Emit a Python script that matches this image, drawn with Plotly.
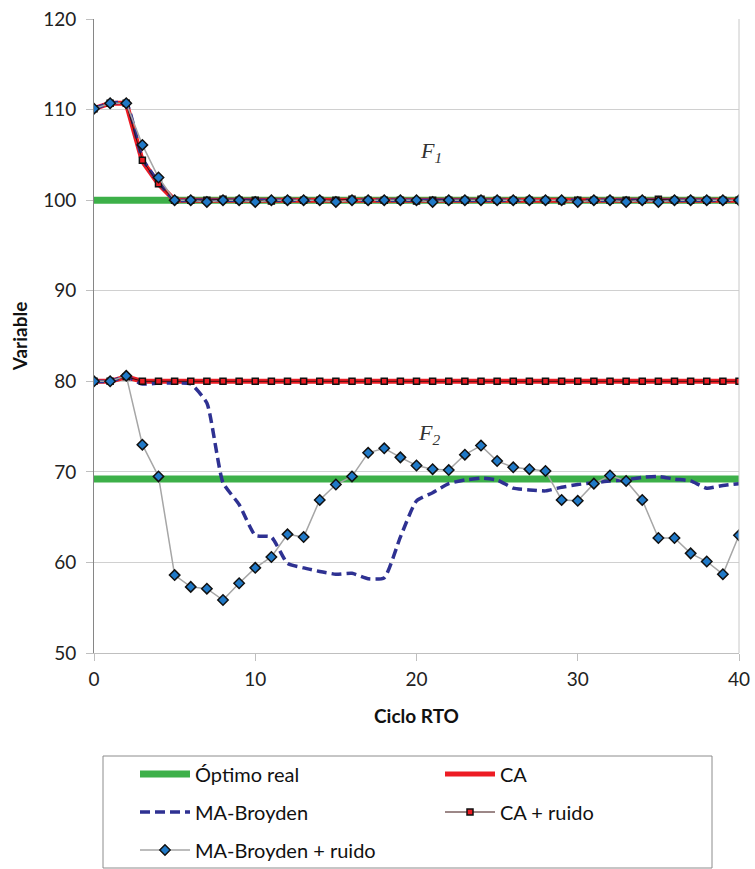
import plotly.graph_objects as go

# RTO cycle index
ciclo = list(range(41))
opt_ciclo = [0, 40]

# Real optimum for each variable
optimo_F1 = [100.0, 100.0]
optimo_F2 = [69.2, 69.2]

# F1 trajectories
ca_F1 = [110.1, 110.7, 110.7, 104.3, 101.8, 100.0, 100.0, 100.0, 100.0, 100.0,
         100.0, 100.0, 100.0, 100.0, 100.0, 100.0, 100.0, 100.0, 100.0, 100.0,
         100.0, 100.0, 100.0, 100.0, 100.0, 100.0, 100.0, 100.0, 100.0, 100.0,
         100.0, 100.0, 100.0, 100.0, 100.0, 100.0, 100.0, 100.0, 100.0, 100.0,
         100.0]
mab_F1 = [110.1, 110.7, 110.7, 104.6, 102.0, 100.0, 100.0, 100.0, 100.0, 100.0,
          100.0, 100.0, 100.0, 100.0, 100.0, 100.0, 100.0, 100.0, 100.0, 100.0,
          100.0, 100.0, 100.0, 100.0, 100.0, 100.0, 100.0, 100.0, 100.0, 100.0,
          100.0, 100.0, 100.0, 100.0, 100.0, 100.0, 100.0, 100.0, 100.0, 100.0,
          100.0]
ca_ruido_F1 = [110.1, 110.7, 110.7, 104.4, 101.8, 100.0, 100.0, 100.0, 100.1, 100.0,
               100.0, 99.9, 100.0, 100.0, 100.0, 100.0, 100.1, 100.0, 100.0, 100.0,
               99.9, 100.0, 100.0, 100.0, 100.1, 100.0, 100.0, 100.0, 100.0, 99.9,
               100.0, 100.0, 100.0, 100.0, 100.0, 100.1, 100.0, 100.0, 100.0, 100.0,
               100.0]
mab_ruido_F1 = [110.1, 110.7, 110.7, 106.1, 102.5, 100.0, 100.0, 99.8, 100.0, 100.0,
                99.8, 100.0, 100.0, 100.0, 100.0, 99.8, 100.0, 100.0, 100.0, 100.0,
                100.0, 99.8, 100.0, 100.0, 100.0, 100.0, 100.0, 100.0, 100.0, 100.0,
                99.8, 100.0, 100.0, 99.8, 100.0, 99.8, 100.0, 100.0, 100.0, 100.0,
                100.0]

# F2 trajectories
ca_F2 = [80.0, 80.0, 80.5, 80.0, 80.0, 80.0, 80.0, 80.0, 80.0, 80.0,
         80.0, 80.0, 80.0, 80.0, 80.0, 80.0, 80.0, 80.0, 80.0, 80.0,
         80.0, 80.0, 80.0, 80.0, 80.0, 80.0, 80.0, 80.0, 80.0, 80.0,
         80.0, 80.0, 80.0, 80.0, 80.0, 80.0, 80.0, 80.0, 80.0, 80.0,
         80.0]
mab_F2 = [80.0, 80.0, 80.5, 79.7, 79.8, 79.8, 79.7, 77.6, 68.8, 66.4,
          63.0, 62.8, 59.9, 59.4, 59.0, 58.7, 58.8, 58.2, 58.3, 62.8,
          66.8, 67.7, 68.7, 69.1, 69.3, 69.1, 68.2, 68.0, 67.9, 68.3,
          68.6, 68.8, 69.0, 69.1, 69.4, 69.5, 69.2, 69.0, 68.2, 68.5,
          68.7]
ca_ruido_F2 = [80.0, 80.0, 80.5, 80.0, 80.0, 80.0, 80.0, 80.0, 80.0, 80.0,
               80.0, 80.0, 80.0, 80.0, 80.0, 80.0, 80.0, 80.0, 80.0, 80.0,
               80.0, 80.0, 80.0, 80.0, 80.0, 80.0, 80.0, 80.0, 80.0, 80.0,
               80.0, 80.0, 80.0, 80.0, 80.0, 80.0, 80.0, 80.0, 80.0, 80.0,
               80.0]
mab_ruido_F2 = [80.0, 80.0, 80.6, 73.0, 69.5, 58.6, 57.3, 57.1, 55.85, 57.7,
                59.4, 60.6, 63.1, 62.8, 66.9, 68.6, 69.5, 72.1, 72.6, 71.6,
                70.7, 70.3, 70.2, 71.9, 72.9, 71.2, 70.5, 70.3, 70.1, 66.9,
                66.8, 68.7, 69.6, 69.0, 66.9, 62.7, 62.7, 61.0, 60.1, 58.7,
                63.0]

GREEN = "#3DB049"
RED = "#ED1C24"
NAVY = "#2E3192"
BLUE = "#2079C7"
GRAY = "#A6A6A6"
FONT = "Lato"

fig = go.Figure()

def add_pair(name, legend, xs, y1, y2, **kw):
    fig.add_trace(go.Scatter(x=xs, y=y1, name=name, legend=legend,
                             legendgroup=name, showlegend=True, **kw))
    fig.add_trace(go.Scatter(x=xs, y=y2, name=name, legend=legend,
                             legendgroup=name, showlegend=False, **kw))

add_pair("Óptimo real", "legend", opt_ciclo, optimo_F1, optimo_F2,
         mode="lines", line=dict(color=GREEN, width=7))
add_pair("CA", "legend2", ciclo, ca_F1, ca_F2,
         mode="lines", line=dict(color=RED, width=5))
add_pair("MA-Broyden", "legend3", ciclo, mab_F1, mab_F2,
         mode="lines", line=dict(color=NAVY, width=3.5, dash="10px,5px",
                                 shape="spline", smoothing=0.5))
add_pair("CA + ruido", "legend4", ciclo, ca_ruido_F1, ca_ruido_F2,
         mode="lines+markers", line=dict(color="#3A1010", width=1),
         marker=dict(symbol="square", size=6, color=RED,
                     line=dict(color="#111111", width=1.5)))
add_pair("MA-Broyden + ruido", "legend5", ciclo, mab_ruido_F1, mab_ruido_F2,
         mode="lines+markers", line=dict(color=GRAY, width=1.5),
         marker=dict(symbol="diamond", size=8, color=BLUE,
                     line=dict(color="#111111", width=1.5)))

# plot area: x 94..739 px, y 19..653 px
L, R, T, B = 94, 16, 19, 216
W, H = 755, 869
pw, ph = W - L - R, H - T - B

def px_x(p):
    return (p - L) / pw

def px_y(p):
    return (H - B - p) / ph

legend_font = dict(family=FONT, size=20, color="#111111")
col1, col2 = 135, 440
rows = [774, 812, 850]
legend_pos = {
    "legend": (col1, rows[0]),
    "legend2": (col2, rows[0]),
    "legend3": (col1, rows[1]),
    "legend4": (col2, rows[1]),
    "legend5": (col1, rows[2]),
}
legends = {}
for key, (lx, ly) in legend_pos.items():
    legends[key] = dict(x=px_x(lx), y=px_y(ly), xanchor="left", yanchor="middle",
                        bgcolor="rgba(0,0,0,0)", borderwidth=0,
                        font=legend_font, itemwidth=50)

fig.update_layout(
    width=W, height=H,
    margin=dict(l=L, r=R, t=T, b=B, autoexpand=False),
    paper_bgcolor="white", plot_bgcolor="white",
    font=dict(family=FONT, size=19, color="#222222"),
    **legends,
    xaxis=dict(range=[0, 40], tickvals=[0, 10, 20, 30, 40], showgrid=False,
               automargin=False,
               zeroline=False, showline=True, linecolor="#BFBFBF", linewidth=1,
               ticks="outside", ticklen=7, tickcolor="#BFBFBF",
               ticklabelstandoff=2,
               tickfont=dict(family=FONT, size=19, color="#222222"),
               title=dict(text="<b>Ciclo RTO</b>", standoff=20,
                          font=dict(family=FONT, size=19, color="#111111"))),
    yaxis=dict(range=[50, 120], tickvals=[50, 60, 70, 80, 90, 100, 110, 120],
               automargin=False,
               showgrid=True, gridcolor="#D0D0D0", gridwidth=1,
               zeroline=False, showline=True, linecolor="#868686", linewidth=1,
               ticks="outside", ticklen=7, tickcolor="#BFBFBF",
               ticklabelstandoff=6,
               tickfont=dict(family=FONT, size=19, color="#222222"),
               title=dict(text="<b>Variable</b>", standoff=10,
                          font=dict(family=FONT, size=19, color="#111111"))),
    shapes=[
        dict(type="line", xref="paper", yref="paper", x0=1, x1=1, y0=0, y1=1,
             line=dict(color="#C8C8C8", width=1)),
        dict(type="rect", xref="paper", yref="paper",
             x0=px_x(103), x1=px_x(712), y0=px_y(868), y1=px_y(756),
             line=dict(color="#8C8C8C", width=1)),
    ],
    annotations=[
        dict(x=20.9, y=105.3, xref="x", yref="y", showarrow=False,
             text="<i>F<sub>1</sub></i>",
             font=dict(family="Liberation Serif", size=22, color="#333333")),
        dict(x=20.8, y=74.2, xref="x", yref="y", showarrow=False,
             text="<i>F<sub>2</sub></i>",
             font=dict(family="Liberation Serif", size=22, color="#333333")),
    ],
)

fig.write_html("out.html")
